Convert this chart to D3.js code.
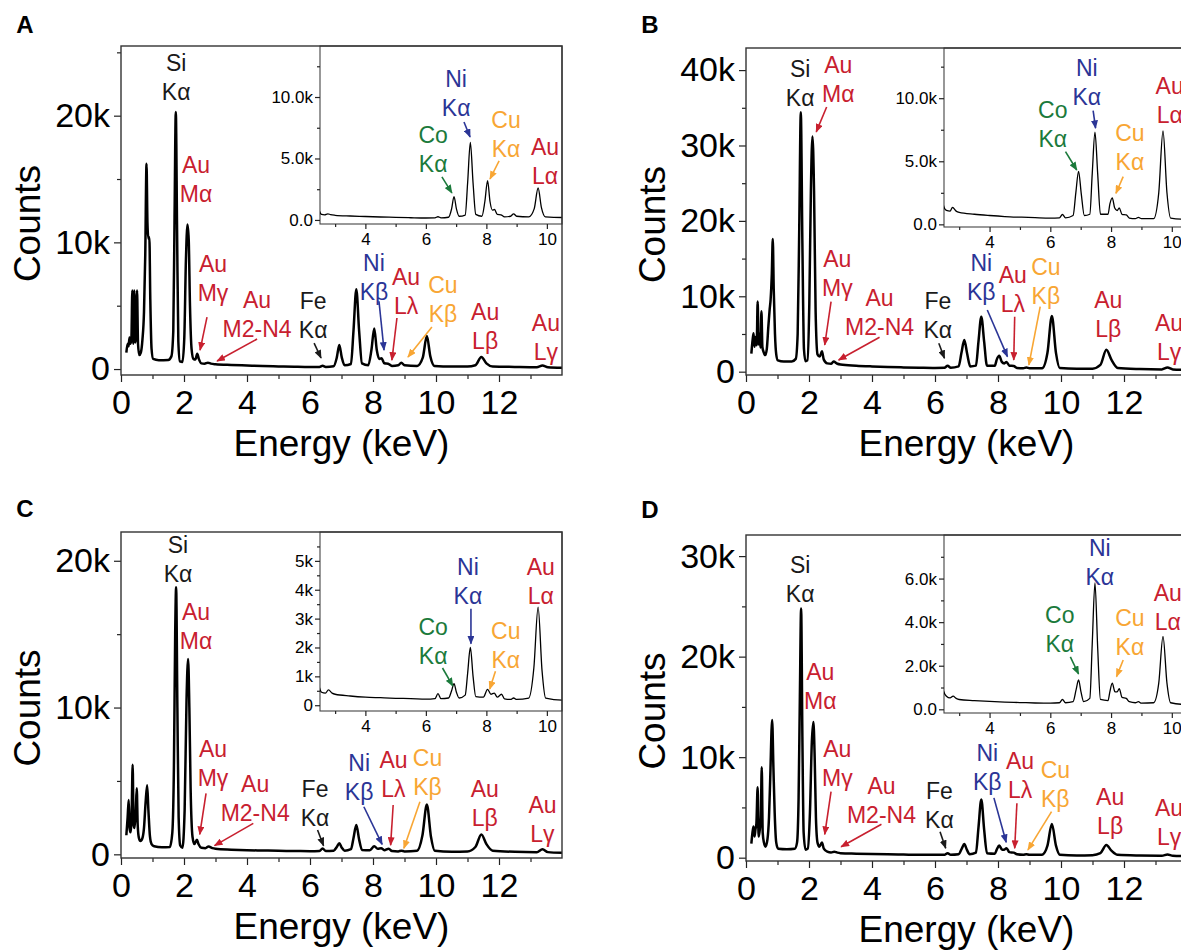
<!DOCTYPE html>
<html>
<head>
<meta charset="utf-8">
<script src="https://cdn.jsdelivr.net/npm/d3@7"></script>
<style>
body { margin: 0; background: #fff; }
svg { display: block; font-family: "Liberation Sans", Arial, sans-serif; }
</style>
</head>
<body>
<svg id="fig" width="1181" height="951"></svg>
<script>
// spectra: [energy keV, counts]
var specA = [[0.17,1300],[0.21,2000],[0.24,1800],[0.27,2500],[0.30,2000],[0.33,2400],[0.36,6200],[0.39,2000],[0.42,6200],[0.45,2100],[0.48,2600],[0.51,6200],[0.54,2000],[0.58,1100],[0.63,1300],[0.68,2300],[0.73,4500],[0.77,9000],[0.81,16200],[0.84,11500],[0.87,10300],[0.90,10400],[0.93,5500],[0.97,1600],[1.02,800],[1.2,700],[1.5,720],[1.6,1000],[1.66,3000],[1.70,12000],[1.74,20300],[1.78,11000],[1.82,2200],[1.87,600],[1.95,550],[2.01,2500],[2.06,8500],[2.11,11400],[2.15,10200],[2.19,5000],[2.24,1600],[2.30,800],[2.36,750],[2.42,1200],[2.47,800],[2.55,450],[2.65,420],[2.76,500],[2.85,430],[3.0,380],[3.5,320],[4.0,280],[4.5,240],[5.0,210],[5.5,180],[6.0,160],[6.3,170],[6.4,260],[6.5,170],[6.75,220],[6.85,900],[6.93,1900],[7.01,900],[7.1,300],[7.3,400],[7.38,3000],[7.47,6300],[7.56,3000],[7.65,450],[7.85,300],[7.95,1500],[8.04,3200],[8.12,1500],[8.2,800],[8.27,850],[8.36,450],[8.48,420],[8.6,250],[8.8,300],[8.9,500],[9.0,300],[9.4,250],[9.58,900],[9.71,2600],[9.82,1000],[9.95,250],[10.5,200],[11.0,200],[11.25,300],[11.44,950],[11.6,450],[11.8,200],[12.5,170],[13.2,150],[13.38,280],[13.55,150],[14.0,100]];
var specB = [[0.17,2400],[0.21,4200],[0.24,5100],[0.27,3300],[0.30,4600],[0.34,3500],[0.37,9300],[0.40,3600],[0.43,5000],[0.46,3200],[0.49,8000],[0.52,3300],[0.56,2600],[0.61,2200],[0.66,3000],[0.71,6000],[0.75,8200],[0.78,9500],[0.82,13000],[0.85,17600],[0.88,11000],[0.92,5000],[0.96,2300],[1.01,1500],[1.2,1350],[1.45,1350],[1.58,1700],[1.64,5000],[1.69,19000],[1.74,34400],[1.79,17000],[1.84,3000],[1.89,1400],[1.95,1500],[2.01,9000],[2.06,24000],[2.11,31200],[2.16,24000],[2.21,8000],[2.27,2300],[2.34,2000],[2.41,2700],[2.47,1600],[2.58,1100],[2.7,1050],[2.78,1350],[2.9,1050],[3.0,950],[3.5,800],[4.0,700],[4.5,620],[5.0,570],[5.5,530],[6.0,500],[6.3,520],[6.4,780],[6.5,520],[6.75,700],[6.84,2500],[6.93,4200],[7.02,2400],[7.12,700],[7.3,800],[7.38,4000],[7.47,7300],[7.56,4000],[7.65,800],[7.9,800],[7.96,1600],[8.04,2100],[8.12,1300],[8.2,1100],[8.27,1300],[8.36,800],[8.5,750],[8.6,500],[8.8,450],[8.9,550],[9.0,450],[9.4,450],[9.57,2500],[9.71,7400],[9.84,2500],[9.96,500],[10.5,400],[11.0,400],[11.25,900],[11.44,2900],[11.6,1600],[11.8,500],[12.5,350],[13.2,300],[13.38,550],[13.55,300],[14.0,250]];
var specC = [[0.17,1300],[0.21,2500],[0.245,3700],[0.27,1800],[0.30,1500],[0.34,3000],[0.37,6100],[0.40,2000],[0.43,1800],[0.47,3000],[0.50,4500],[0.53,2000],[0.57,1100],[0.62,900],[0.68,1100],[0.73,1800],[0.78,3500],[0.83,4700],[0.87,3000],[0.92,1200],[0.97,700],[1.05,550],[1.3,480],[1.55,500],[1.63,1500],[1.68,6000],[1.72,15000],[1.75,18200],[1.79,10000],[1.83,2500],[1.88,600],[1.95,450],[2.02,3000],[2.08,10500],[2.13,13300],[2.17,10000],[2.21,4500],[2.27,1200],[2.33,700],[2.41,1000],[2.46,700],[2.55,450],[2.68,420],[2.78,530],[2.9,420],[3.0,380],[3.5,320],[4.0,280],[4.5,260],[5.0,240],[5.5,230],[6.0,210],[6.3,230],[6.4,400],[6.5,230],[6.75,250],[6.85,500],[6.93,750],[7.01,450],[7.1,250],[7.3,350],[7.38,1100],[7.47,2000],[7.56,1000],[7.65,300],[7.9,280],[8.04,550],[8.15,380],[8.26,420],[8.36,280],[8.5,380],[8.6,220],[8.8,200],[8.9,250],[9.0,200],[9.4,250],[9.57,1300],[9.71,3400],[9.84,1200],[9.96,250],[10.5,180],[11.0,200],[11.25,500],[11.44,1350],[11.6,700],[11.8,250],[12.5,170],[13.2,150],[13.38,350],[13.55,150],[14.0,100]];
var specD = [[0.17,1400],[0.21,2600],[0.24,3100],[0.27,2100],[0.30,2800],[0.33,3400],[0.37,7000],[0.40,2100],[0.43,2600],[0.47,4000],[0.50,9000],[0.53,2500],[0.57,1500],[0.62,1100],[0.68,1800],[0.73,4000],[0.77,8000],[0.83,13700],[0.87,9000],[0.91,4500],[0.96,1500],[1.02,900],[1.3,850],[1.55,900],[1.62,1500],[1.67,6000],[1.71,16000],[1.75,24800],[1.79,12000],[1.83,2500],[1.89,800],[1.96,900],[2.03,4500],[2.09,11500],[2.14,13500],[2.18,10000],[2.22,4000],[2.27,1500],[2.33,1100],[2.41,1500],[2.47,900],[2.58,600],[2.7,520],[2.8,600],[2.9,500],[3.0,450],[3.5,400],[4.0,360],[4.5,330],[5.0,310],[5.5,290],[6.0,280],[6.3,300],[6.4,450],[6.5,300],[6.75,350],[6.85,900],[6.93,1350],[7.01,800],[7.1,350],[7.3,500],[7.38,3000],[7.47,5800],[7.56,2800],[7.65,450],[7.9,400],[7.96,800],[8.04,1200],[8.13,800],[8.2,800],[8.27,950],[8.36,550],[8.5,500],[8.6,350],[8.8,300],[8.9,350],[9.0,280],[9.4,300],[9.57,1200],[9.71,3350],[9.84,1200],[9.96,300],[10.5,220],[11.0,250],[11.25,450],[11.44,1250],[11.6,700],[11.8,280],[12.5,220],[13.2,200],[13.38,320],[13.55,200],[14.0,150]];

// ticks
var xTicks = [0, 2, 4, 6, 8, 10, 12], xMinor = [1, 3, 5, 7, 9, 11, 13];
var insetXTicks = [4, 6, 8, 10], insetXMinor = [3, 5, 7, 9];
var yTicksA = [0, 10000, 20000], yMinorA = [5000, 15000, 25000];
var yTicksB = [0, 10000, 20000, 30000, 40000], yMinorB = [5000, 15000, 25000, 35000];
var yTicksC = [0, 10000, 20000], yMinorC = [5000, 15000];
var yTicksD = [0, 10000, 20000, 30000], yMinorD = [5000, 15000, 25000];
var insetTicksA = [0, 5000, 10000], insetTickLabelsA = ["0.0", "5.0k", "10.0k"], insetMinorA = [2500, 7500, 12500];
var insetTicksB = [0, 5000, 10000], insetTickLabelsB = ["0.0", "5.0k", "10.0k"], insetMinorB = [2500, 7500, 12500];
var insetTicksC = [0, 1000, 2000, 3000, 4000, 5000], insetTickLabelsC = ["0", "1k", "2k", "3k", "4k", "5k"], insetMinorC = [500, 1500, 2500, 3500, 4500, 5500];
var insetTicksD = [0, 2000, 4000, 6000], insetTickLabelsD = ["0.0", "2.0k", "4.0k", "6.0k"], insetMinorD = [1000, 3000, 5000, 7000];

// peak annotations: text lines, colour, label position (keV, counts), optional arrow
var notesA = [
  {t:["Si","Kα"], c:"k", x:1.75, y:24150},
  {t:["Au","Mα"], c:"r", x:2.38, y:16100},
  {t:["Au","Mγ"], c:"r", x:2.92, y:8290, a:[[2.73,4100],[2.51,1500]]},
  {t:["Au","M2-N4"], c:"r", x:4.32, y:5450, a:[[4.32,2370],[3.05,630]]},
  {t:["Fe","Kα"], c:"k", x:6.1, y:5370, a:[[6.13,2050],[6.35,870]]},
  {t:["Ni","Kβ"], c:"b", x:8.03, y:8350, a:[[8.19,5350],[8.35,1500]]},
  {t:["Au","Lλ"], c:"r", x:9.05, y:7260, a:[[8.76,4030],[8.6,710]]},
  {t:["Cu","Kβ"], c:"o", x:10.22, y:6630, a:[[9.87,3310],[9.11,950]]},
  {t:["Au","Lβ"], c:"r", x:11.56, y:4500},
  {t:["Au","Lγ"], c:"r", x:13.49, y:3630}
];
var insetNotesA = [
  {t:["Ni","Kα"], c:"b", x:7.0, y:11460, a:[[7.26,7970],[7.46,6750]]},
  {t:["Co","Kα"], c:"g", x:6.24, y:6910, a:[[6.53,3500],[6.86,2200]]},
  {t:["Cu","Kα"], c:"o", x:8.65, y:8130, a:[[8.42,4800],[8.12,3330]]},
  {t:["Au","Lα"], c:"r", x:9.94, y:5930}
];
var notesB = [
  {t:["Si","Kα"], c:"k", x:1.72, y:40100},
  {t:["Au","Mα"], c:"r", x:2.93, y:40700, a:[[2.56,35100],[2.23,31800]]},
  {t:["Au","Mγ"], c:"r", x:2.9, y:14900, a:[[2.7,9280],[2.5,3540]]},
  {t:["Au","M2-N4"], c:"r", x:4.24, y:9730, a:[[4.24,4560],[2.94,1550]]},
  {t:["Fe","Kα"], c:"k", x:6.09, y:9380, a:[[6.12,3770],[6.3,1780]]},
  {t:["Ni","Kβ"], c:"b", x:7.47, y:14380, a:[[7.66,8180],[8.3,1990]]},
  {t:["Au","Lλ"], c:"r", x:8.47, y:12820, a:[[8.53,7290],[8.5,1550]]},
  {t:["Cu","Kβ"], c:"o", x:9.52, y:13930, a:[[9.34,8620],[8.98,890]]},
  {t:["Au","Lβ"], c:"r", x:11.5, y:9510},
  {t:["Au","Lγ"], c:"r", x:13.43, y:6500}
];
var insetNotesB = [
  {t:["Ni","Kα"], c:"b", x:7.2, y:12380, a:[[7.41,9020],[7.49,7620]]},
  {t:["Co","Kα"], c:"g", x:6.08, y:9070, a:[[6.5,5760],[6.87,4310]]},
  {t:["Cu","Kα"], c:"o", x:8.62, y:7220, a:[[8.4,3780],[8.16,2460]]},
  {t:["Au","Lα"], c:"r", x:9.93, y:10980}
];
var notesC = [
  {t:["Si","Kα"], c:"k", x:1.81, y:21070},
  {t:["Au","Mα"], c:"r", x:2.38, y:16490},
  {t:["Au","Mγ"], c:"r", x:2.92, y:7150, a:[[2.7,4160],[2.5,1360]]},
  {t:["Au","M2-N4"], c:"r", x:4.26, y:4790, a:[[4.2,2110],[2.97,590]]},
  {t:["Fe","Kα"], c:"k", x:6.16, y:4430, a:[[6.24,1660],[6.43,590]]},
  {t:["Ni","Kβ"], c:"b", x:7.56, y:6240, a:[[7.71,3240],[8.29,680]]},
  {t:["Au","Lλ"], c:"r", x:8.65, y:6420, a:[[8.64,3360],[8.56,630]]},
  {t:["Cu","Kβ"], c:"o", x:9.73, y:6540, a:[[9.49,3580],[8.98,410]]},
  {t:["Au","Lβ"], c:"r", x:11.55, y:4430},
  {t:["Au","Lγ"], c:"r", x:13.38, y:3360}
];
var insetNotesC = [
  {t:["Ni","Kα"], c:"b", x:7.39, y:4800, a:[[7.49,3340],[7.49,2130]]},
  {t:["Co","Kα"], c:"g", x:6.24, y:2710, a:[[6.55,1290],[6.89,670]]},
  {t:["Cu","Kα"], c:"o", x:8.64, y:2590, a:[[8.3,1180],[8.11,560]]},
  {t:["Au","Lα"], c:"r", x:9.8, y:4800}
];
var notesD = [
  {t:["Si","Kα"], c:"k", x:1.72, y:29120},
  {t:["Au","Mα"], c:"r", x:2.36, y:18510},
  {t:["Au","Mγ"], c:"r", x:2.9, y:10790, a:[[2.7,6570],[2.5,2330]]},
  {t:["Au","M2-N4"], c:"r", x:4.3, y:7130, a:[[4.3,3320],[3.02,1090]]},
  {t:["Fe","Kα"], c:"k", x:6.14, y:6640, a:[[6.16,2590],[6.34,940]]},
  {t:["Ni","Kβ"], c:"b", x:7.66, y:10450, a:[[7.87,5950],[8.26,1530]]},
  {t:["Au","Lλ"], c:"r", x:8.7, y:9620, a:[[8.6,5410],[8.53,940]]},
  {t:["Cu","Kβ"], c:"o", x:9.82, y:8730, a:[[9.7,4580],[8.95,770]]},
  {t:["Au","Lβ"], c:"r", x:11.56, y:6070},
  {t:["Au","Lγ"], c:"r", x:13.43, y:4920}
];
var insetNotesD = [
  {t:["Ni","Kα"], c:"b", x:7.63, y:7390},
  {t:["Co","Kα"], c:"g", x:6.31, y:4330, a:[[6.66,2410],[6.93,1620]]},
  {t:["Cu","Kα"], c:"o", x:8.62, y:4200, a:[[8.4,2260],[8.18,1500]]},
  {t:["Au","Lα"], c:"r", x:9.87, y:5350}
];

var colors = {k: "#1a1a1a", r: "#c8202f", b: "#2b3596", g: "#1b7a3b", o: "#f8a634"};

// layout (pixels) and axis ranges for each panel
var panels = [
  {name: "A", spec: specA, notes: notesA, insetNotes: insetNotesA,
   box: {l: 121, t: 46, r: 562, b: 375}, yDom: [-470, 25500], yTicks: yTicksA, yMinor: yMinorA,
   inset: {l: 320, t: 46, r: 562, b: 224}, iDom: [-330, 14150], iTicks: insetTicksA, iLabels: insetTickLabelsA, iMinor: insetMinorA,
   tag: [25, 25]},
  {name: "B", spec: specB, notes: notesB, insetNotes: insetNotesB,
   box: {l: 746, t: 48, r: 1187, b: 375}, yDom: [-440, 42930], yTicks: yTicksB, yMinor: yMinorB,
   inset: {l: 944, t: 48, r: 1187, b: 227}, iDom: [-210, 13980], iTicks: insetTicksB, iLabels: insetTickLabelsB, iMinor: insetMinorB,
   tag: [650, 25]},
  {name: "C", spec: specC, notes: notesC, insetNotes: insetNotesC,
   box: {l: 121, t: 532, r: 562, b: 858}, yDom: [-250, 21960], yTicks: yTicksC, yMinor: yMinorC,
   inset: {l: 320, t: 532, r: 562, b: 711}, iDom: [-200, 6000], iTicks: insetTicksC, iLabels: insetTickLabelsC, iMinor: insetMinorC,
   tag: [25, 509]},
  {name: "D", spec: specD, notes: notesD, insetNotes: insetNotesD,
   box: {l: 746, t: 535, r: 1187, b: 861}, yDom: [-330, 32100], yTicks: yTicksD, yMinor: yMinorD,
   inset: {l: 944, t: 535, r: 1187, b: 713}, iDom: [-170, 8000], iTicks: insetTicksD, iLabels: insetTickLabelsD, iMinor: insetMinorD,
   tag: [650, 510]}
];

var svg = d3.select("#fig");
var defs = svg.append("defs");

Object.keys(colors).forEach(function(k) {
  defs.append("marker")
    .attr("id", "ah-" + k)
    .attr("viewBox", "0 0 10 8")
    .attr("refX", 9).attr("refY", 4)
    .attr("markerWidth", 9).attr("markerHeight", 7)
    .attr("markerUnits", "userSpaceOnUse")
    .attr("orient", "auto")
    .append("path").attr("d", "M0,0L10,4L0,8Z").attr("fill", colors[k]);
});

function styleAxis(sel, size) {
  sel.select(".domain").remove();
  sel.selectAll("line").attr("stroke", "#222").attr("stroke-width", 1.2);
  sel.selectAll("text").attr("fill", "#000").style("font-size", size + "px");
}

function drawNotes(g, notes, x, y) {
  notes.forEach(function(n) {
    n.t.forEach(function(s, i) {
      g.append("text")
        .attr("x", x(n.x))
        .attr("y", y(n.y) + i * 29)
        .attr("dy", "0.35em")
        .attr("text-anchor", "middle")
        .attr("fill", colors[n.c])
        .style("font-size", "23px")
        .text(s);
    });
    if (n.a) {
      g.append("line")
        .attr("x1", x(n.a[0][0])).attr("y1", y(n.a[0][1]))
        .attr("x2", x(n.a[1][0])).attr("y2", y(n.a[1][1]))
        .attr("stroke", colors[n.c])
        .attr("stroke-width", 1.6)
        .attr("marker-end", "url(#ah-" + n.c + ")");
    }
  });
}

panels.forEach(function(p) {
  var g = svg.append("g");
  var b = p.box, ib = p.inset;

  var x = d3.scaleLinear().domain([0, 14]).range([b.l, b.r]);
  var y = d3.scaleLinear().domain(p.yDom).range([b.b, b.t]);
  var xi = d3.scaleLinear().domain([2.5, 10.5]).range([ib.l, ib.r]);
  var yi = d3.scaleLinear().domain(p.iDom).range([ib.b, ib.t]);

  defs.append("clipPath").attr("id", "clip" + p.name)
    .append("rect").attr("x", b.l).attr("y", b.t).attr("width", b.r - b.l).attr("height", b.b - b.t);
  defs.append("clipPath").attr("id", "iclip" + p.name)
    .append("rect").attr("x", ib.l).attr("y", ib.t).attr("width", ib.r - ib.l).attr("height", ib.b - ib.t);

  // main axes
  g.append("g").attr("transform", "translate(0," + b.b + ")")
    .call(d3.axisBottom(x).tickValues(xTicks).tickSize(7).tickPadding(8).tickFormat(d3.format("d")))
    .call(styleAxis, 34);
  g.append("g").attr("transform", "translate(0," + b.b + ")")
    .call(d3.axisBottom(x).tickValues(xMinor).tickSize(4).tickFormat(""))
    .call(styleAxis, 34);
  g.append("g").attr("transform", "translate(" + b.l + ",0)")
    .call(d3.axisLeft(y).tickValues(p.yTicks).tickSize(7).tickPadding(4)
      .tickFormat(function(d) { return d === 0 ? "0" : (d / 1000) + "k"; }))
    .call(styleAxis, 34);
  g.append("g").attr("transform", "translate(" + b.l + ",0)")
    .call(d3.axisLeft(y).tickValues(p.yMinor).tickSize(4).tickFormat(""))
    .call(styleAxis, 34);

  var line = d3.line()
    .x(function(d) { return x(d[0]); })
    .y(function(d) { return y(d[1]); })
    .curve(d3.curveMonotoneX);
  g.append("path").datum(p.spec)
    .attr("d", line)
    .attr("fill", "none")
    .attr("stroke", "#000")
    .attr("stroke-width", 2.5)
    .attr("stroke-linejoin", "round")
    .attr("clip-path", "url(#clip" + p.name + ")");

  // inset
  g.append("rect")
    .attr("x", ib.l).attr("y", ib.t)
    .attr("width", ib.r - ib.l).attr("height", ib.b - ib.t)
    .attr("fill", "#fff")
    .attr("stroke", "#444").attr("stroke-width", 1.1);
  g.append("g").attr("transform", "translate(0," + ib.b + ")")
    .call(d3.axisBottom(xi).tickValues(insetXTicks).tickSize(5).tickPadding(4).tickFormat(d3.format("d")))
    .call(styleAxis, 17);
  g.append("g").attr("transform", "translate(0," + ib.b + ")")
    .call(d3.axisBottom(xi).tickValues(insetXMinor).tickSize(3).tickFormat(""))
    .call(styleAxis, 17);
  g.append("g").attr("transform", "translate(" + ib.l + ",0)")
    .call(d3.axisLeft(yi).tickValues(p.iTicks).tickSize(5).tickPadding(2)
      .tickFormat(function(d, i) { return p.iLabels[i]; }))
    .call(styleAxis, 17);
  g.append("g").attr("transform", "translate(" + ib.l + ",0)")
    .call(d3.axisLeft(yi).tickValues(p.iMinor).tickSize(3).tickFormat(""))
    .call(styleAxis, 17);

  var iline = d3.line()
    .x(function(d) { return xi(d[0]); })
    .y(function(d) { return yi(d[1]); })
    .curve(d3.curveMonotoneX);
  g.append("path").datum(p.spec)
    .attr("d", iline)
    .attr("fill", "none")
    .attr("stroke", "#000")
    .attr("stroke-width", 1.3)
    .attr("clip-path", "url(#iclip" + p.name + ")");

  // main frame on top
  g.append("rect")
    .attr("x", b.l).attr("y", b.t)
    .attr("width", b.r - b.l).attr("height", b.b - b.t)
    .attr("fill", "none")
    .attr("stroke", "#333").attr("stroke-width", 1.4);

  drawNotes(g, p.notes, x, y);
  drawNotes(g, p.insetNotes, xi, yi);

  // titles
  g.append("text")
    .attr("x", (b.l + b.r) / 2).attr("y", b.b + 68)
    .attr("dy", "0.35em")
    .attr("text-anchor", "middle")
    .style("font-size", "37px")
    .text("Energy (keV)");
  g.append("text")
    .attr("transform", "translate(" + (b.l - 94) + "," + ((b.t + b.b) / 2 + 13) + ") rotate(-90)")
    .attr("dy", "0.35em")
    .attr("text-anchor", "middle")
    .style("font-size", "37px")
    .text("Counts");
  g.append("text")
    .attr("x", p.tag[0]).attr("y", p.tag[1])
    .attr("dy", "0.35em")
    .attr("text-anchor", "middle")
    .style("font-size", "24px")
    .style("font-weight", "bold")
    .text(p.name);
});
</script>
</body>
</html>
